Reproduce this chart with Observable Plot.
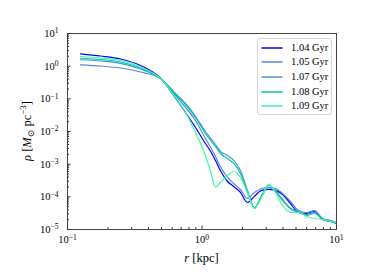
<!DOCTYPE html>
<html><head><meta charset="utf-8">
<script src="https://cdn.jsdelivr.net/npm/d3@7"></script>
<script src="https://cdn.jsdelivr.net/npm/@observablehq/plot@0.6"></script>
<style>
body{margin:0;background:#fff;}
#chart{position:relative;width:374px;height:280px;font-family:"Liberation Serif","DejaVu Serif",serif;}
#legend{position:absolute;left:257px;top:38px;width:75px;height:77px;border:1px solid #d6d6d6;border-radius:3px;background:rgba(255,255,255,0.85);box-sizing:border-box;}
.row{position:absolute;left:0;height:14px;width:74px;}
.row svg{position:absolute;left:3px;top:0;}
.row span{position:absolute;left:33px;top:0;line-height:14px;font-size:10.5px;color:#000;white-space:nowrap;}
</style></head>
<body><div id="chart"></div>
<script>
// Data
const labels = ["1.04 Gyr", "1.05 Gyr", "1.07 Gyr", "1.08 Gyr", "1.09 Gyr"];
const colors = ["#0000ff", "#5b83e3", "#4b93cf", "#00c79f", "#3dfb9f"];
const radii = [0.125, 0.176, 0.248, 0.349, 0.491, 0.635, 0.754, 0.895, 1.06, 1.16, 1.26, 1.37, 1.55, 1.72, 1.93, 2.18, 2.45, 2.77, 3.12, 3.52, 3.97, 4.55, 5.22, 5.98, 6.86, 7.87, 9.02, 10.0];
const rho104 = [2.39, 2.05, 1.66, 1.05, 0.434, 0.106, 0.0382, 0.0133, 0.00430, 0.00244, 0.00130, 6.41e-4, 2.95e-4, 2.07e-4, 1.36e-4, 6.71e-5, 1.03e-4, 1.57e-4, 1.68e-4, 1.57e-4, 1.18e-4, 6.25e-5, 3.32e-5, 3.09e-5, 3.56e-5, 2.03e-5, 1.76e-5, 1.53e-5];
const rho105 = [1.10, 1.01, 0.879, 0.664, 0.420, 0.126, 0.0543, 0.0217, 0.00611, 0.00324, 0.00172, 8.49e-4, 3.91e-4, 2.56e-4, 1.68e-4, 8.91e-5, 1.36e-4, 1.80e-4, 1.93e-4, 1.80e-4, 1.27e-4, 7.21e-5, 3.82e-5, 3.32e-5, 3.82e-5, 2.17e-5, 1.89e-5, 1.64e-5];
const rho107 = [1.57, 1.44, 1.21, 0.819, 0.420, 0.146, 0.0720, 0.0288, 0.0100, 0.00611, 0.00400, 0.00244, 0.00185, 0.00130, 6.41e-4, 1.57e-4, 4.72e-5, 1.03e-4, 1.93e-4, 1.46e-4, 7.73e-5, 4.40e-5, 3.56e-5, 2.69e-5, 3.09e-5, 2.17e-5, 1.76e-5, 1.64e-5];
const rho108 = [1.75, 1.60, 1.34, 0.879, 0.420, 0.136, 0.0671, 0.0268, 0.00869, 0.00531, 0.00348, 0.00212, 0.00149, 0.00105, 5.19e-4, 1.36e-4, 4.40e-5, 1.10e-4, 2.22e-4, 1.57e-4, 8.30e-5, 4.40e-5, 3.32e-5, 2.88e-5, 3.32e-5, 2.03e-5, 1.76e-5, 1.53e-5];
const rho109 = [1.98, 1.78, 1.49, 0.944, 0.420, 0.110, 0.0382, 0.00933, 0.00185, 5.97e-4, 1.93e-4, 2.75e-4, 4.50e-4, 5.97e-4, 3.91e-4, 1.36e-4, 4.40e-5, 9.55e-5, 2.39e-4, 1.36e-4, 5.43e-5, 3.32e-5, 3.32e-5, 2.51e-5, 2.17e-5, 2.03e-5, 1.76e-5, 1.64e-5];
const xMajor = [0.1, 1, 10];
const yMajor = [1e-5, 1e-4, 1e-3, 1e-2, 1e-1, 1, 10];

const series = [rho104, rho105, rho107, rho108, rho109];
const data = [];
series.forEach((vals, i) => vals.forEach((v, j) => data.push({label: labels[i], r: radii[j], rho: v})));

const xMinor = [];
for (const d of [0.1, 1]) for (let k = 2; k <= 9; k++) xMinor.push(d * k);
const yMinor = [];
for (const d of [1e-5, 1e-4, 1e-3, 1e-2, 1e-1, 1]) for (let k = 2; k <= 9; k++) yMinor.push(d * k);
const fmt = v => "10^" + Math.round(Math.log10(v));

const chart = Plot.plot({
  width: 374, height: 280,
  marginLeft: 67, marginRight: 38, marginTop: 33, marginBottom: 51,
  x: {type: "log", domain: [0.1, 10]},
  y: {type: "log", domain: [1e-5, 10]},
  color: {domain: labels, range: colors},
  style: {fontFamily: "'Liberation Serif','DejaVu Serif',serif", fontSize: "10.5px", color: "#000", background: "#fff"},
  marks: [
    Plot.axisX({ticks: xMinor, tickSize: -2, tickFormat: () => "", label: null, stroke: "#333"}),
    Plot.axisX({ticks: xMajor, tickSize: -3.5, tickFormat: () => "", label: null, stroke: "#333"}),
    Plot.axisX({ticks: xMajor, tickSize: 0, tickPadding: 6, tickFormat: fmt, label: null}),
    Plot.axisY({ticks: yMinor, tickSize: -2, tickFormat: () => "", label: null, stroke: "#333"}),
    Plot.axisY({ticks: yMajor, tickSize: -3.5, tickFormat: () => "", label: null, stroke: "#333"}),
    Plot.axisY({ticks: yMajor, tickSize: 0, tickPadding: 9, tickFormat: fmt, label: null}),
    Plot.line(data, {x: "r", y: "rho", z: "label", stroke: "label", curve: "monotone-x", strokeWidth: 1.2}),
    Plot.frame({stroke: "#333", strokeWidth: 0.9})
  ]
});
document.getElementById("chart").appendChild(chart);

// superscript exponents in tick labels
const svg = d3.select(chart);
svg.selectAll("text").each(function() {
  const t = d3.select(this);
  const s = t.text();
  const m = /^10\^(-?\d+)$/.exec(s);
  if (m) {
    t.text("10");
    t.append("tspan").attr("dy", "-0.45em").attr("font-size", "0.72em").text(m[1].replace("-", "\u2212"));
  }
});

// axis labels
const yl = svg.append("text")
  .attr("transform", "translate(31,131) rotate(-90)")
  .attr("text-anchor", "middle").attr("font-size", 12.5)
  .attr("font-family", "'Liberation Serif','DejaVu Serif',serif").attr("fill", "#000");
yl.append("tspan").attr("font-style", "italic").text("\u03c1");
yl.append("tspan").text(" [");
yl.append("tspan").attr("font-style", "italic").text("M");
yl.append("tspan").attr("font-size", 9).attr("dy", 3).text("\u2299");
yl.append("tspan").attr("dy", -3).text(" pc");
yl.append("tspan").attr("font-size", 9).attr("dy", -5).text("\u22123");
yl.append("tspan").attr("dy", 5).text("]");

const xl = svg.append("text")
  .attr("x", 201.5).attr("y", 262)
  .attr("text-anchor", "middle").attr("font-size", 12.5)
  .attr("font-family", "'Liberation Serif','DejaVu Serif',serif").attr("fill", "#000");
xl.append("tspan").attr("font-style", "italic").text("r");
xl.append("tspan").text(" [kpc]");

// legend
const lg = document.createElement("div");
lg.id = "legend";
labels.forEach((l, i) => {
  const row = document.createElement("div");
  row.className = "row";
  row.style.top = (1.7 + 14.6 * i) + "px";
  row.innerHTML = `<svg width="24" height="14"><line x1="0.5" x2="21.5" y1="7" y2="7" stroke="${colors[i]}" stroke-width="1.5"/></svg><span>${l}</span>`;
  lg.appendChild(row);
});
document.getElementById("chart").appendChild(lg);
</script>
</body></html>
